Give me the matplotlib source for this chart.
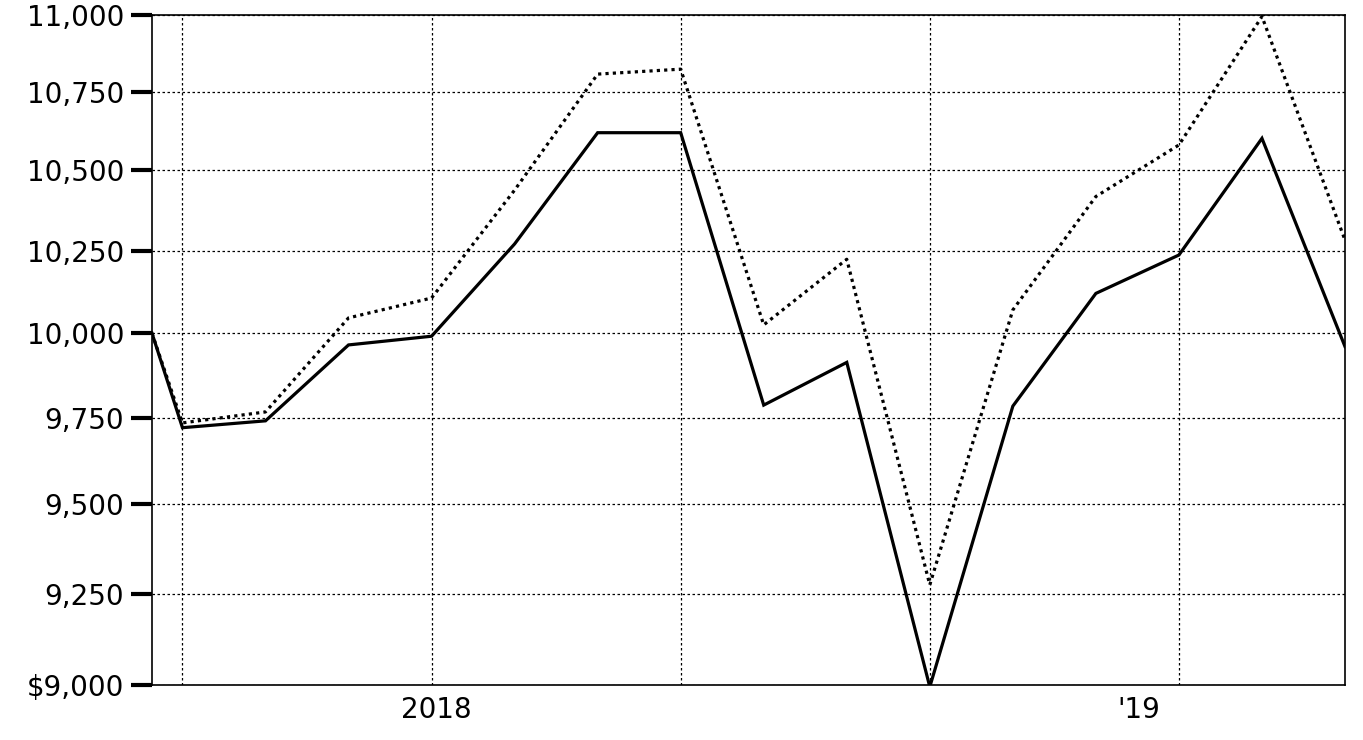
import matplotlib
matplotlib.use("Agg")
import matplotlib.pyplot as plt
from matplotlib.ticker import FixedLocator, FuncFormatter, NullFormatter
import datetime as dt

# ---- data ----
dates = ["2017-09-19", "2017-09-30", "2017-10-31", "2017-11-30", "2017-12-31",
         "2018-01-31", "2018-02-28", "2018-03-31", "2018-04-30", "2018-05-31",
         "2018-06-30", "2018-07-31", "2018-08-31", "2018-09-30", "2018-10-31",
         "2018-11-30"]
fund = [10000, 9721, 9741, 9965, 9991, 10271, 10619, 10619, 9787, 9913,
        8995, 9784, 10120, 10237, 10601, 9960]
index = [10000, 9735, 9767, 10046, 10106, 10438, 10807, 10823, 10025, 10224,
         9274, 10070, 10418, 10580, 10995, 10283]
y_ticks = [9000, 9250, 9500, 9750, 10000, 10250, 10500, 10750, 11000]
grid_dates = ["2017-09-30", "2017-12-31", "2018-03-31", "2018-06-30", "2018-09-30"]
label_texts = ["2018", "'19"]

to_d = lambda s: dt.datetime.strptime(s, "%Y-%m-%d")

# monthly axis: month-end points evenly spaced, the inception date placed
# by its day distance before the first month-end
d = [to_d(s) for s in dates]
def xpos(day):
    first = d[1]
    if day < first:
        return -(first - day).days / 30.0
    return (day.year - first.year) * 12 + (day.month - first.month)
x = [xpos(v) for v in d]

fig = plt.figure(figsize=(13.63, 7.40), dpi=100)
ax = fig.add_axes([152/1363, 1-685/740, (1345-152)/1363, (685-15)/740])

ax.plot(x, index, color="black", lw=2.3, linestyle=(0, (1, 1.3)), zorder=3)
ax.plot(x, fund, color="black", lw=2.3, linestyle="-", zorder=4,
        solid_joinstyle="miter")

ax.set_yscale("log")
ax.set_ylim(9000, 11000)
ax.set_xlim(x[0], x[-1])

ax.yaxis.set_major_locator(FixedLocator(y_ticks))
ax.yaxis.set_minor_locator(FixedLocator([]))
ax.yaxis.set_minor_formatter(NullFormatter())
ax.yaxis.set_major_formatter(FuncFormatter(
    lambda v, p: ("$" if v == y_ticks[0] else "") + f"{int(round(v)):,}"))

gx = [xpos(to_d(s)) for s in grid_dates]
ax.xaxis.set_major_locator(FixedLocator(gx))
ax.xaxis.set_major_formatter(NullFormatter())
# year labels: "2018" at the turn of the year, "'19" half a month before the last grid line
lx = [gx[1] + 0.06, gx[4] - 0.48]
ax.set_xticks(lx, label_texts, minor=True)

ax.tick_params(axis="x", which="both", length=0, labelsize=20, pad=8)
ax.tick_params(axis="y", which="major", length=15, width=3, labelsize=20, pad=5,
               direction="out")

ax.grid(True, which="major", axis="both", color="black", linestyle=(0, (2, 2)),
        linewidth=0.9)
for s in ax.spines.values():
    s.set_linewidth(1.2)
    s.set_color("black")

fig.savefig("out.png", dpi=100)
